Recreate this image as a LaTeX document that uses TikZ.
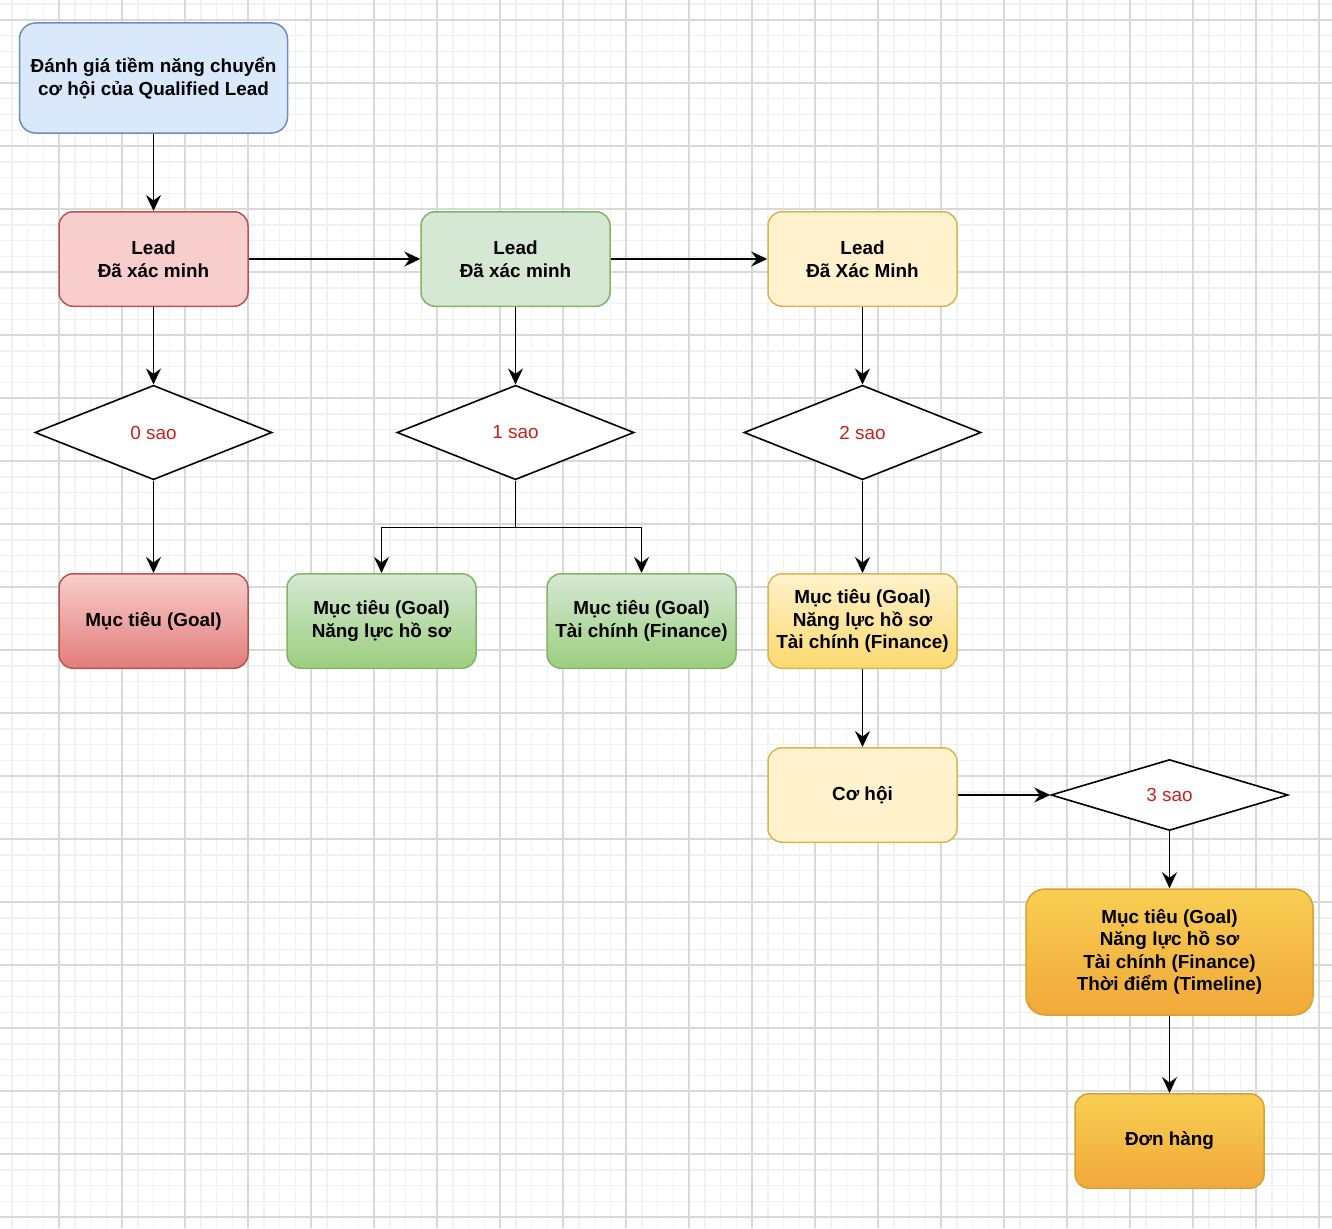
\documentclass[tikz,border=0pt]{standalone}
\usepackage{fontspec}
\setmainfont{Liberation Sans}
\usepackage{xcolor}
\usepackage{tikz}
\usetikzlibrary{arrows.meta,shapes.geometric,positioning}

\definecolor{gridminor}{HTML}{F1F1F1}
\definecolor{gridmajor}{HTML}{D9D9D9}
\definecolor{blueFill}{HTML}{DAE8FC}
\definecolor{blueLine}{HTML}{6C8EBF}
\definecolor{redFill}{HTML}{F8CECC}
\definecolor{redDark}{HTML}{E27C79}
\definecolor{redLine}{HTML}{B85450}
\definecolor{greenFill}{HTML}{D5E8D4}
\definecolor{greenDark}{HTML}{9BCF7E}
\definecolor{greenLine}{HTML}{82B366}
\definecolor{yellowFill}{HTML}{FFF2CC}
\definecolor{yellowDark}{HTML}{FBD96E}
\definecolor{yellowLine}{HTML}{D6B656}
\definecolor{orangeTop}{HTML}{F8CE52}
\definecolor{orangeBot}{HTML}{F1A83A}
\definecolor{orangeLine}{HTML}{D6A135}
\definecolor{starRed}{HTML}{CC1F1F}

\begin{document}
\begin{tikzpicture}[x=1pt,y=-1pt]

\tikzset{box/.style={rectangle, rounded corners=14pt, line width=1.5pt, minimum width=189pt, minimum height=94.5pt, align=center, inner sep=0pt, font=\fontsize{18.9}{22.5}\selectfont\bfseries},
bluebox/.style={box, draw=blueLine, fill=blueFill, minimum width=268pt, minimum height=110pt, rounded corners=16pt},
redbox/.style={box, draw=redLine, fill=redFill},
greenbox/.style={box, draw=greenLine, fill=greenFill},
yellowbox/.style={box, draw=yellowLine, fill=yellowFill},
redgoal/.style={box, draw=redLine, top color=redFill, bottom color=redDark},
greengoal/.style={box, draw=greenLine, top color=greenFill, bottom color=greenDark},
yellowgoal/.style={box, draw=yellowLine, top color=yellowFill, bottom color=yellowDark},
orangegoal/.style={box, draw=orangeLine, top color=orangeTop, bottom color=orangeBot},
stars/.style={diamond, draw=black, fill=white, line width=1.6pt, minimum width=237pt, minimum height=94.5pt, inner sep=0pt, text=starRed, font=\fontsize{18.9}{22.5}\selectfont},
link/.style={line width=1.8pt, -{Stealth[length=16pt,width=15pt,inset=5.5pt]}}}

\useasboundingbox (0,0) rectangle (1332,1228);
\fill[white] (0,0) rectangle (1332,1228);

% grid
\foreach \i in {0,...,85}
  \draw[gridminor, line width=1.5pt] ({-4+15.75*\i},0) -- ({-4+15.75*\i},1228);
\foreach \i in {0,...,81}
  \draw[gridminor, line width=1.5pt] (0,{-43+15.75*\i}) -- (1332,{-43+15.75*\i});
\foreach \i in {0,...,21}
  \draw[gridmajor, line width=1.4pt] ({-4+63*\i},0) -- ({-4+63*\i},1228);
\foreach \i in {0,...,20}
  \draw[gridmajor, line width=1.4pt] (0,{-43+63*\i}) -- (1332,{-43+63*\i});

% boxes
\node[bluebox] (start) at (153.5,78) {Đánh giá tiềm năng chuyển\\cơ hội của Qualified Lead};

\node[redbox] (lead0) at (153.5,259) {Lead\\Đã xác minh};
\node[greenbox] (lead1) at (515.5,259) {Lead\\Đã xác minh};
\node[yellowbox] (lead2) at (862.5,259) {Lead\\Đã Xác Minh};

\foreach \n/\x/\t in {sao0/153.5/0 sao, sao1/515.5/1 sao, sao2/862.5/2 sao}
  \node[stars] (\n) at (\x,432.5) {\t};

\node[redgoal] (goal0) at (153.5,621) {Mục tiêu (Goal)};
\node[greengoal] (goal1a) at (381.5,621) {Mục tiêu (Goal)\\Năng lực hồ sơ};
\node[greengoal] (goal1b) at (641.5,621) {Mục tiêu (Goal)\\Tài chính (Finance)};
\node[yellowgoal] (goal2) at (862.5,621) {Mục tiêu (Goal)\\Năng lực hồ sơ\\Tài chính (Finance)};

\node[yellowbox] (cohoi) at (862.5,795) {Cơ hội};
\node[stars, minimum height=71pt] (sao3) at (1169.5,795) {3 sao};

\node[orangegoal, minimum width=287pt, minimum height=126pt, rounded corners=19pt] (goal3) at (1169.5,952) {Mục tiêu (Goal)\\Năng lực hồ sơ\\Tài chính (Finance)\\Thời điểm (Timeline)};
\node[orangegoal] (donhang) at (1169.5,1141) {Đơn hàng};

% links
\draw[link] (start.south) -- (lead0.north);
\draw[link] (lead0.east) -- (lead1.west);
\draw[link] (lead1.east) -- (lead2.west);

\foreach \a/\b in {lead0/sao0, lead1/sao1, lead2/sao2, sao0/goal0, sao2/goal2, goal2/cohoi}
  \draw[link] (\a.south) -- (\b.north);

\draw[link] (sao1.south) -- ++(0,47) -| (goal1a.north);
\draw[link] (sao1.south) -- ++(0,47) -| (goal1b.north);

\draw[link] (cohoi.east) -- (sao3.west);
\draw[link] (sao3.south) -- (goal3.north);
\draw[link] (goal3.south) -- (donhang.north);

\end{tikzpicture}
\end{document}
